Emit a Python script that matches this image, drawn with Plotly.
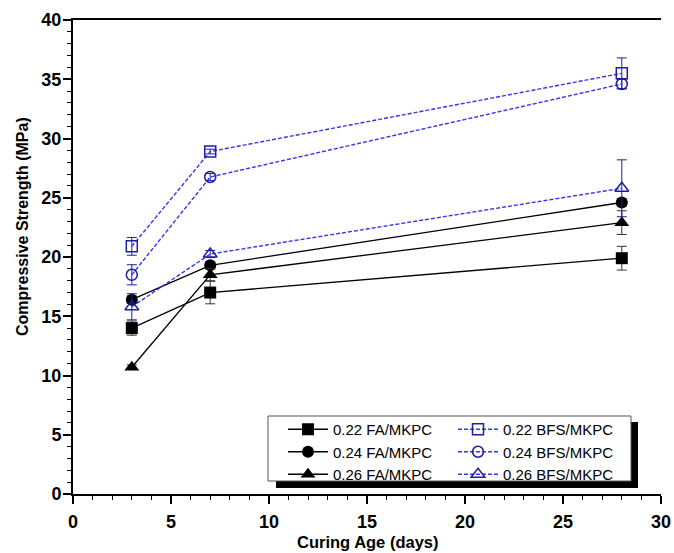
import plotly.graph_objects as go

ages = [3, 7, 28]

fa22 = [14.0, 17.0, 19.9]
fa22_err = [0.6, 0.95, 1.0]
fa24 = [16.4, 19.3, 24.6]
fa24_err = [0.3, 0.3, 0.3]
fa26 = [10.7, 18.5, 22.9]
fa26_err = [0.2, 0.5, 1.0]

bfs22 = [20.9, 28.9, 35.5]
bfs22_err = [0.75, 0.2, 1.3]
bfs24 = [18.5, 26.75, 34.6]
bfs24_err = [0.85, 0.3, 0.4]
bfs26 = [15.8, 20.25, 25.8]
bfs26_err = [1.1, 0.3, 2.4]

BLK = "black"
NAVY = "#1f1fa3"
BLUE = "#3535f0"
FONT = "Liberation Sans, Arial, sans-serif"

fig = go.Figure()

def fa_trace(name, y, err, sym):
    return go.Scatter(
        x=ages, y=y, name=name, mode="lines+markers", legend="legend",
        line=dict(color=BLK, width=1.3),
        marker=dict(symbol=sym, size=12 if sym != "triangle-up" else 13, color=BLK),
        error_y=dict(type="data", array=err, color="#333333", thickness=1, width=5),
    )

def bfs_trace(name, y, err, sym):
    return go.Scatter(
        x=ages, y=y, name=name, mode="lines+markers", legend="legend2",
        line=dict(color=BLUE, width=1.4, dash="4px,2px"),
        marker=dict(symbol=sym, size=11 if sym != "triangle-up-open" else 12,
                    color=NAVY, line=dict(color=NAVY, width=1.5)),
        error_y=dict(type="data", array=err, color=NAVY, thickness=1, width=5),
    )

fig.add_trace(fa_trace("0.22 FA/MKPC", fa22, fa22_err, "square"))
fig.add_trace(fa_trace("0.24 FA/MKPC", fa24, fa24_err, "circle"))
fig.add_trace(fa_trace("0.26 FA/MKPC", fa26, fa26_err, "triangle-up"))
fig.add_trace(bfs_trace("0.22 BFS/MKPC", bfs22, bfs22_err, "square-open"))
fig.add_trace(bfs_trace("0.24 BFS/MKPC", bfs24, bfs24_err, "circle-open"))
fig.add_trace(bfs_trace("0.26 BFS/MKPC", bfs26, bfs26_err, "triangle-up-open"))

L, R, T, B = 73, 13, 20, 59
W, H = 674, 553
pw, ph = W - L - R, H - T - B

def px_x(p):
    return (p - L) / pw

def px_y(p):
    return (H - B - p) / ph

tickfont = dict(family=FONT, size=18, color="black", weight="bold")
legfont = dict(family=FONT, size=15, color="black")

fig.update_layout(
    width=W, height=H,
    margin=dict(l=L, r=R, t=T, b=B, autoexpand=False),
    paper_bgcolor="white", plot_bgcolor="white",
    font=dict(family=FONT, color="black"),
    xaxis=dict(
        range=[0, 30], tick0=0, dtick=5, ticks="outside", ticklen=8, tickwidth=1.5,
        tickcolor="black", showline=True, linecolor="black", linewidth=2,
        mirror=True, showgrid=False, zeroline=False, tickfont=tickfont,
        ticklabelstandoff=2, automargin=False,
        minor=dict(dtick=1, ticks="outside", ticklen=4, tickwidth=1.3, tickcolor="black"),
    ),
    yaxis=dict(
        range=[0, 40], tick0=0, dtick=5, ticks="outside", ticklen=8, tickwidth=1.5,
        tickcolor="black", showline=True, linecolor="black", linewidth=2,
        showgrid=False, zeroline=False, tickfont=tickfont, automargin=False,
        ticklabelstandoff=-2,
        minor=dict(dtick=1, ticks="outside", ticklen=4, tickwidth=1.3, tickcolor="black"),
    ),
    yaxis2=dict(
        overlaying="y", side="right", anchor="x", range=[0, 40], tick0=0, dtick=5,
        ticks="inside", ticklen=7, tickwidth=1.5, tickcolor="black",
        showline=True, linecolor="black", linewidth=2, showgrid=False, zeroline=False,
        showticklabels=False, automargin=False,
        minor=dict(dtick=1, ticks="inside", ticklen=4, tickwidth=1.3, tickcolor="black"),
    ),
    legend=dict(
        x=px_x(283), y=px_y(413), xanchor="left", yanchor="top",
        bgcolor="rgba(0,0,0,0)", borderwidth=0, itemwidth=40,
        font=legfont, tracegroupgap=0,
    ),
    legend2=dict(
        x=px_x(453), y=px_y(413), xanchor="left", yanchor="top",
        bgcolor="rgba(0,0,0,0)", borderwidth=0, itemwidth=40,
        font=legfont, tracegroupgap=0,
    ),
    showlegend=True,
    annotations=[
        dict(
            text="Compressive Strength (MPa)", xref="paper", yref="paper",
            x=px_x(22), y=px_y(227), textangle=-90, showarrow=False,
            font=dict(family=FONT, size=16, weight="bold", color="black"),
            xanchor="center", yanchor="middle",
        ),
        dict(
            text="Curing Age (days)", xref="paper", yref="paper",
            x=px_x(368), y=px_y(542), showarrow=False,
            font=dict(family=FONT, size=16.5, weight="bold", color="black"),
            xanchor="center", yanchor="middle",
        ),
    ],
    shapes=[
        dict(type="rect", xref="paper", yref="paper", layer="below",
             x0=px_x(276), x1=px_x(638), y0=px_y(488), y1=px_y(422),
             fillcolor="black", line=dict(width=0)),
        dict(type="rect", xref="paper", yref="paper", layer="below",
             x0=px_x(268), x1=px_x(631), y0=px_y(481), y1=px_y(416),
             fillcolor="white", line=dict(color="#555555", width=1)),
    ],
)

fig.write_html("out.html")
